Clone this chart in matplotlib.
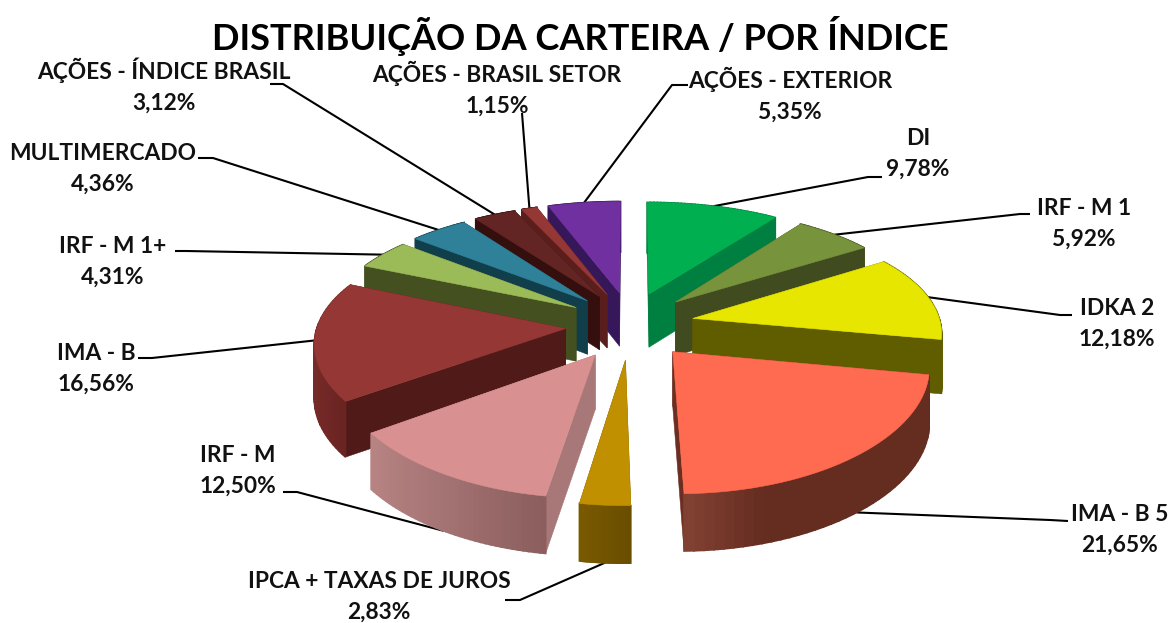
import numpy as np
import matplotlib
matplotlib.use("Agg")
import matplotlib.pyplot as plt
from matplotlib.colors import to_rgb
from matplotlib.patches import Polygon

plt.rcParams['font.family'] = ['Lato', 'DejaVu Sans']

labels = ["DI", "IRF - M 1", "IDKA 2", "IMA - B 5", "IPCA + TAXAS DE JUROS", "IRF - M",
          "IMA - B", "IRF - M 1+", "MULTIMERCADO", "AÇÕES - ÍNDICE BRASIL",
          "AÇÕES - BRASIL SETOR", "AÇÕES - EXTERIOR"]
values = [9.78, 5.92, 12.18, 21.65, 2.83, 12.50, 16.56, 4.31, 4.36, 3.12, 1.15, 5.35]
title = "DISTRIBUIÇÃO DA CARTEIRA / POR ÍNDICE"

top_colors = ['#00b050', '#77933c', '#e6e600', '#ff6b50', '#c09000', '#d99090',
              '#953735', '#9bbb59', '#2f8099', '#632523', '#953735', '#7030a0']
side_colors = ['#008040', '#404b20', '#605c00', '#6b2e20', '#6f5200', '#a87878',
               '#4f1a17', '#44501f', '#103e4a', '#350f0e', '#5a1f1c', '#36175a']
rim_left = ['#008040', '#404b20', '#605c00', '#854434', '#7a5a00', '#b88484',
            '#7a2c2a', '#44501f', '#103e4a', '#350f0e', '#5a1f1c', '#36175a']
rim_right = ['#008040', '#404b20', '#605c00', '#652c20', '#6a4e00', '#8c5e5e',
             '#6a2422', '#44501f', '#103e4a', '#350f0e', '#5a1f1c', '#36175a']
rim_stop = [1, 1, 1, .3, 1, 1, 1, 1, 1, 1, 1, 1]

# layout in pixels
cx, cy = 630, 325
rx, ry = 248, 113
persp_x, persp_y = 0.11, 0.144
explode_x, explode_y = 0.26, 0.30
depth = 54

label_xy = [(918, 154), (1084, 224), (1117, 324), (1120, 530), (379, 597), (238, 471),
            (96, 369), (113, 262), (103, 169), (164, 86), (497, 89), (790, 95)]
elbow_xy = [(868, 177), (1020, 214), (1060, 315), (1050, 520), (520, 600), (297, 492),
            (152, 358), (186, 251), (213, 158), (283, 84), (522, 113), (672, 85)]
end_xy = [(882, 177), (1030, 214), (1072, 315), (1068, 521), (505, 600), (283, 492),
          (138, 358), (175, 251), (198, 158), (270, 84), (522, 113), (688, 85)]
on_bottom = [0, 0, 0, 1, 1, 1, 0, 0, 0, 0, 0, 0]


def project(X, Y, z=0.0):
    sx = 1 / (1 - persp_x * Y)
    sy = 1 / (1 - persp_y * Y)
    return cx + rx * sx * X, cy + ry * sy * Y + z * depth * (1 + 0.05 * Y)


def wedge_rim(a0, a1, off, n=40):
    t = np.radians(np.linspace(a0, a1, n))
    return off[0] + np.sin(t), off[1] - np.cos(t)


def mix(c0, c1, f):
    c0, c1 = np.array(to_rgb(c0)), np.array(to_rgb(c1))
    return tuple(c0 + (c1 - c0) * f)


def draw_slice(ax, a0, a1, off, top, side, left, right, stop):
    X, Y = wedge_rim(a0, a1, off)
    faces = []
    # radial walls
    for i in (0, -1):
        quad = [project(off[0], off[1]), project(X[i], Y[i]),
                project(X[i], Y[i], 1), project(off[0], off[1], 1)]
        faces.append(((off[1] + Y[i]) / 2, quad, side, .4))
    # outer wall, in strips so it can carry the gradient
    span = max(X.max() - X.min(), 1e-6)
    for i in range(len(X) - 1):
        quad = [project(X[i], Y[i]), project(X[i + 1], Y[i + 1]),
                project(X[i + 1], Y[i + 1], 1), project(X[i], Y[i], 1)]
        f = min((X[i] - X.min()) / span / stop, 1)
        faces.append(((Y[i] + Y[i + 1]) / 2 + 0.2, quad, mix(left, right, f), 1.2))
    for _, quad, col, lw in sorted(faces, key=lambda f: f[0]):
        ax.add_patch(Polygon(quad, fc=col, ec=col, lw=lw))
    pts = [project(off[0], off[1])] + [project(x, y) for x, y in zip(X, Y)]
    ax.add_patch(Polygon(pts, fc=top, ec=top, lw=.4))


def main():
    fig = plt.figure(figsize=(11.75, 6.23), dpi=100)
    ax = fig.add_axes([0, 0, 1, 1])
    ax.set_xlim(0, 1175)
    ax.set_ylim(623, 0)
    ax.axis('off')

    vals = np.array(values)
    edges = np.concatenate([[0], np.cumsum(vals)]) / vals.sum() * 360
    mids = (edges[:-1] + edges[1:]) / 2
    offs = [(explode_x * np.sin(np.radians(m)), -explode_y * np.cos(np.radians(m))) for m in mids]

    # leaders sit under the pie
    for i, name in enumerate(labels):
        X, Y = wedge_rim(mids[i], mids[i], offs[i], n=1)
        p = project(X[0], Y[0], on_bottom[i])
        ax.plot([p[0], elbow_xy[i][0], end_xy[i][0]], [p[1], elbow_xy[i][1], end_xy[i][1]],
                color='k', lw=1.5, solid_capstyle='butt', zorder=1)
        ax.text(label_xy[i][0], label_xy[i][1], f"{name}\n{values[i]:.2f}".replace('.', ',') + "%",
                ha='center', va='center', fontsize=16.4, fontweight='bold', color='#111111',
                linespacing=1.56, zorder=5)

    for i in sorted(range(len(values)), key=lambda k: offs[k][1]):
        draw_slice(ax, edges[i], edges[i + 1], offs[i], top_colors[i], side_colors[i],
                   rim_left[i], rim_right[i], rim_stop[i])

    ax.text(580, 36, title, ha='center', va='center', fontsize=26.1, fontweight='bold', color='#000000')
    fig.savefig("out.png", dpi=100)


if __name__ == '__main__':
    main()
